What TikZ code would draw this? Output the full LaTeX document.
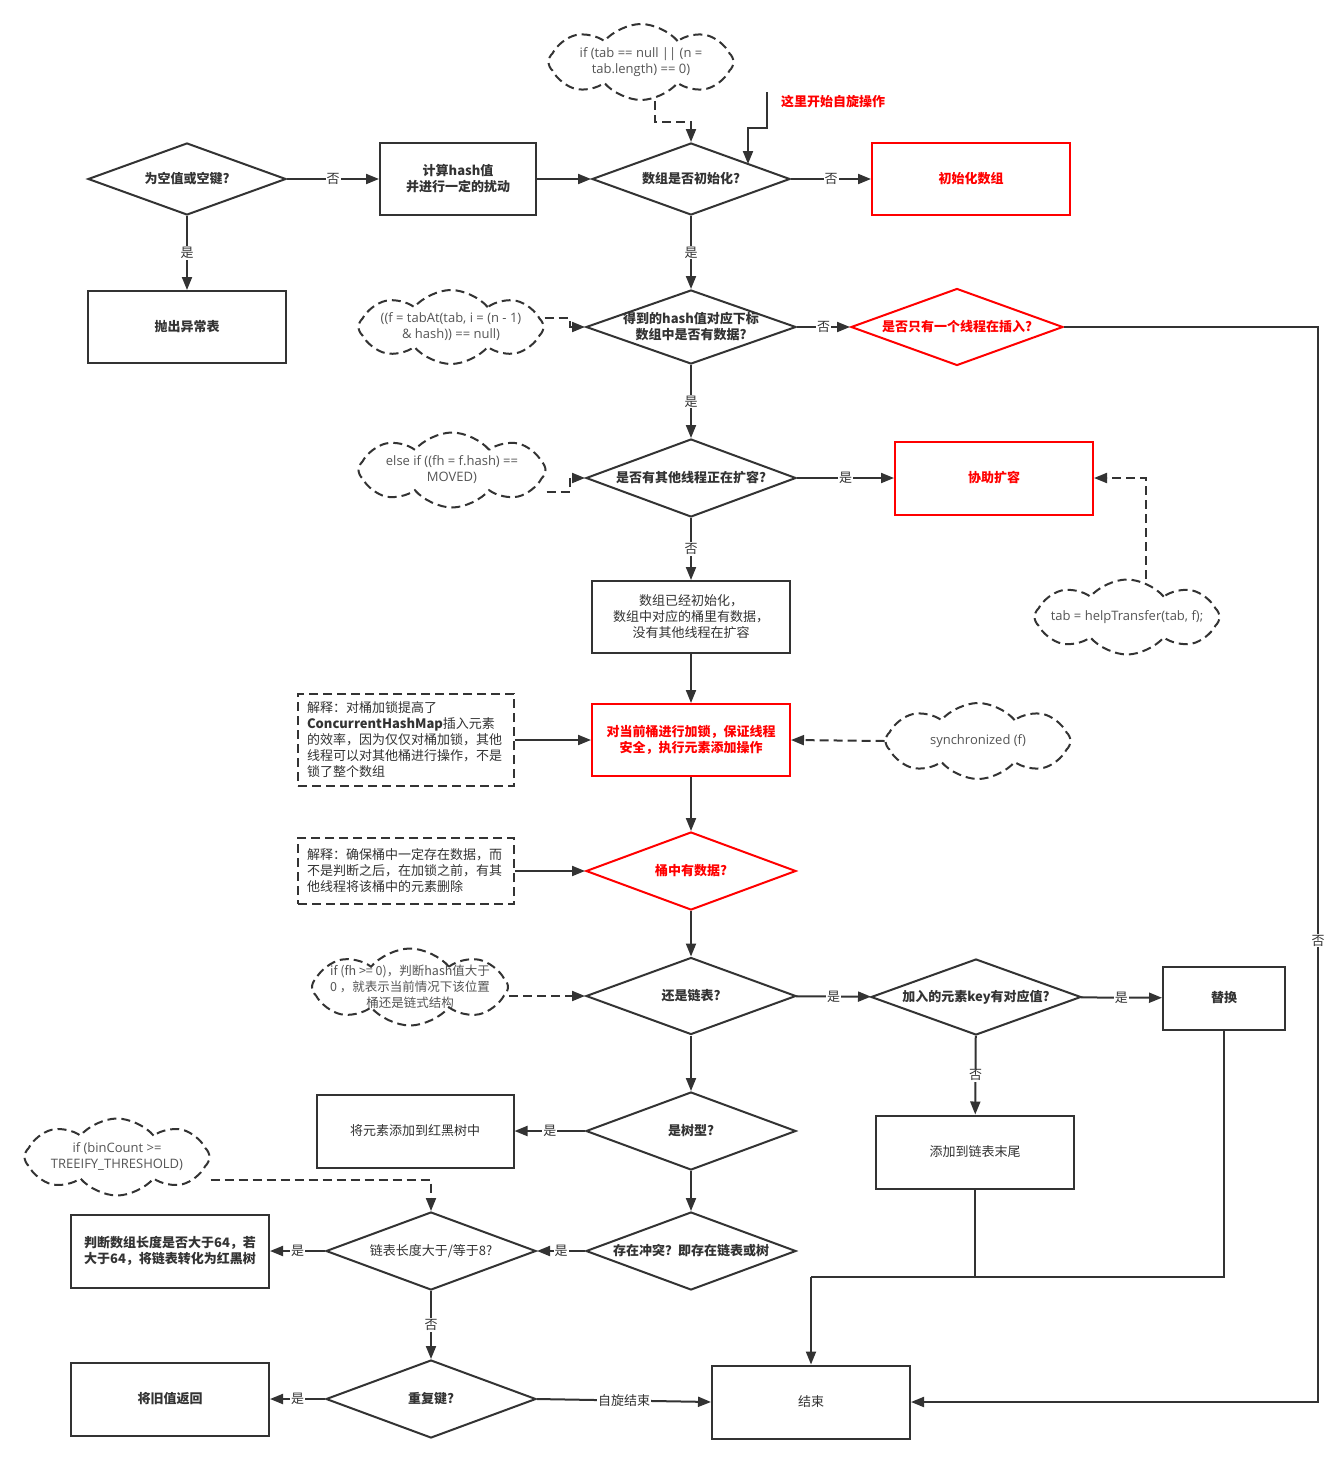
\documentclass[tikz,border=0pt]{standalone}
\usepackage{fontspec}
\setmainfont{Noto Sans CJK SC}
\newfontfamily\codefont{Open Sans}
\usetikzlibrary{shapes.geometric,shapes.symbols,arrows.meta}
\definecolor{ln}{HTML}{333333}
\definecolor{rd}{HTML}{FF0000}
\definecolor{cd}{HTML}{555555}
\newcommand\fs{\fontsize{13}{16}\selectfont}
\newcommand\cs{\fontsize{13}{16}\selectfont}
\newcommand\cjkcs{\fontsize{12.5}{16}\selectfont}
\begin{document}
\begin{tikzpicture}[x=1pt,y=-1pt,line width=2pt,color=ln,
  >={Triangle[length=13pt,width=10pt]},
  dsh/.style={dash pattern=on 9pt off 5pt},
  proc/.style={draw=ln,rectangle,minimum width=198pt,minimum height=73pt,align=center,font=\fs\bfseries,inner sep=0pt,text=ln},
  procr/.style={proc,font=\fs},
  dec/.style={draw=ln,diamond,minimum width=210pt,minimum height=77pt,inner sep=0pt},
  dt/.style={font=\fs\bfseries,align=center,text=ln},
  redc/.style={draw=rd,text=rd},
  cl/.style={cloud,cloud puffs=8,cloud puff arc=100,cloud ignores aspect,draw=ln,dsh,inner sep=0pt,minimum width=185pt,minimum height=76pt},
  ct/.style={font=\codefont\cs,text=cd,align=center},
  ctc/.style={font=\cjkcs,text=cd,align=center},
  note/.style={draw=ln,dsh,rectangle,minimum width=216pt,inner sep=0pt,align=left,text width=198pt,font=\fs,text=ln},
  elab/.style={fill=white,inner sep=1pt,font=\fs,text=ln}]
\fill[white] (0,0) rectangle (1343,1464);
\useasboundingbox (0,0) rectangle (1343,1464);

% row 1
\node[dec,minimum width=198pt,minimum height=72pt,label={[dt]center:为空值或空键?}] (d1) at (187,179) {};
\node[proc,minimum width=156pt,minimum height=72pt] (b1) at (458,179) {计算hash值\\并进行一定的扰动};
\node[dec,minimum width=198pt,minimum height=72pt,label={[dt]center:数组是否初始化?}] (d2) at (691,179) {};
\node[proc,redc,minimum height=72pt] (r1) at (971,179) {初始化数组};
\node[proc,minimum height=72pt] (ex) at (187,327) {抛出异常表};
\node[cl,label={[ct]center:{if (tab == null || (n =\\tab.length) == 0)}}] (c1) at (641,62) {};
\node[font=\fs\bfseries,text=rd] (spintxt) at (833,102) {这里开始自旋操作};
\coordinate (spin) at (767,92);
\coordinate (spinend) at (748,164);

% row 2
\node[dec,minimum height=74pt,label={[dt]center:{得到的hash值对应下标\\数组中是否有数据?}}] (d3) at (691,327) {};
\node[dec,draw=rd,minimum width=212pt,label={[dt,text=rd]center:是否只有一个线程在插入?}] (rd1) at (957,327) {};
\node[cl,minimum height=74pt,label={[ct]center:{((f = tabAt(tab, i = (n - 1)\\\& hash)) == null)}}] (c2) at (451,327) {};

% row 3
\node[dec,minimum height=78pt,label={[dt]center:是否有其他线程正在扩容?}] (d4) at (691,478) {};
\node[cl,minimum width=187pt,minimum height=75pt,label={[ct]center:{else if ((fh = f.hash) ==\\MOVED)}}] (c3) at (452,470) {};
\node[proc,redc] (r2) at (994,478) {协助扩容};
\node[cl,minimum height=75pt,label={[ct]center:{tab = helpTransfer(tab, f);}}] (c4) at (1127,617) {};
\node[procr,minimum height=72pt] (b2) at (691,617) {数组已经初始化，\\数组中对应的桶里有数据，\\没有其他线程在扩容};

% lock
\node[proc,redc,minimum height=72pt] (lock) at (691,740) {对当前桶进行加锁，保证线程\\安全，执行元素添加操作};
\node[note,minimum height=92pt] (n1) at (406,740) {解释：对桶加锁提高了\\\textbf{ConcurrentHashMap}插入元素\\的效率，因为仅仅对桶加锁，其他\\线程可以对其他桶进行操作，不是\\锁了整个数组};
\node[cl,label={[ct]center:{synchronized (f)}}] (c5) at (978,741) {};

\node[dec,draw=rd,minimum height=78pt,label={[dt,text=rd]center:桶中有数据?}] (bkt) at (691,871) {};
\node[note,minimum height=66pt] (n2) at (406,871) {解释：确保桶中一定存在数据，而\\不是判断之后，在加锁之前，有其\\他线程将该桶中的元素删除};

% list
\node[dec,minimum height=77pt,label={[dt]center:还是链表?}] (lst) at (691,996) {};
\node[cl,minimum width=196pt,minimum height=77pt,label={[ctc]center:{if (fh >= 0)，判断hash值大于\\0 ，就表示当前情况下该位置\\桶还是链式结构}}] (c6) at (410,987) {};
\node[dec,minimum height=76pt,label={[dt]center:加入的元素key有对应值?}] (key) at (976,997) {};
\node[proc,minimum width=122pt,minimum height=63pt] (rep) at (1224,998) {替换};
\node[procr] (tail) at (975,1152) {添加到链表末尾};

% tree
\node[dec,minimum height=78pt,label={[dt]center:是树型?}] (tree) at (691,1131) {};
\node[procr,minimum width=197pt] (rbt) at (415,1131) {将元素添加到红黑树中};
\node[dec,minimum height=78pt,label={[dt]center:存在冲突？即存在链表或树}] (conf) at (691,1251) {};
\node[dec,minimum height=78pt,label={[dt,font=\fs]center:链表长度大于/等于8?}] (len) at (431,1251) {};
\node[cl,minimum height=77pt,label={[ct]center:{if (binCount >=\\TREEIFY\_THRESHOLD)}}] (c7) at (117,1157) {};
\node[proc] (big) at (170,1251) {判断数组长度是否大于64，若\\大于64，将链表转化为红黑树};
\node[dec,minimum height=78pt,label={[dt]center:重复键?}] (dup) at (431,1399) {};
\node[proc] (old) at (170,1399) {将旧值返回};
\node[procr] (end) at (811,1402) {结束};
\coordinate (mj) at (811,1277);

% connectors
\draw[->] (d1) -- node[elab]{否} (b1);
\draw[->] (d1) -- node[elab]{是} (ex);
\draw[->] (b1) -- (d2);
\draw[->] (d2) -- node[elab]{否} (r1);
\draw[->] (d2) -- node[elab]{是} (d3);
\draw[dsh,->] ([xshift=14pt]c1.south) |- ([yshift=20pt]d2.north) -- (d2.north);
\draw[->] (spin) -- (767,128) -| (spinend);
\draw[->] (d3) -- node[elab]{否} (rd1);
\draw[->] (rd1.east) -- (1318,327) -- node[elab,pos=0.571]{否} (1318,1402) -- (end.east);
\draw[dsh,->] ([yshift=9pt]c2.east) -- ++(25,0) |- (d3.west);
\draw[->] (d3) -- node[elab]{是} (d4);
\draw[->] (d4) -- node[elab]{是} (r2);
\draw[dsh,->] ([yshift=-22pt]c3.east) -- ++(23,0) |- (d4.west);
\draw[dsh,->] ([xshift=19pt]c4.north) |- (r2.east);
\draw[->] (d4) -- node[elab]{否} (b2);
\draw[->] (b2) -- (lock);
\draw[->] (n1.east) -- (lock.west);
\draw[dsh,->] (c5.west) -- (lock.east);
\draw[->] (lock) -- (bkt);
\draw[->] (n2.east) -- (bkt.west);
\draw[->] (bkt) -- (lst);
\draw[dsh,->] (c6.east |- lst.west) -- (lst.west);
\draw[->] (lst) -- node[elab]{是} (key);
\draw[->] (key) -- node[elab]{是} (rep);
\draw[->] (key) -- node[elab]{否} (tail);
\draw (rep.south) |- (mj);
\draw (tail.south) -- (tail.south |- mj);
\draw[->] (mj) -- (end.north);
\draw[->] (lst) -- (tree);
\draw[->] (tree) -- node[elab]{是} (rbt);
\draw[->] (tree) -- (conf);
\draw[->] (conf) -- node[elab]{是} (len);
\draw[dsh,->] ([yshift=-23pt]c7.east) -| (len.north);
\draw[->] (len) -- node[elab]{是} (big);
\draw[->] (len) -- node[elab]{否} (dup);
\draw[->] (dup) -- node[elab]{是} (old);
\draw[->] (dup.east) -- node[elab]{自旋结束} (end.west);
\end{tikzpicture}
\end{document}
